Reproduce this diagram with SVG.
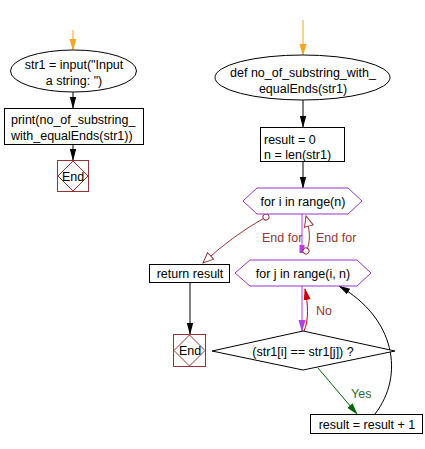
<svg xmlns="http://www.w3.org/2000/svg" width="425" height="449" viewBox="0 0 425 449">
<style>
text{font-family:"Liberation Sans",Arial,sans-serif;font-size:12.5px;fill:#000}
.c{text-anchor:middle}
.box{fill:#fff;stroke:#000;stroke-width:1}
.hex{fill:#fff;stroke:#9933cc;stroke-width:1}
.endb{fill:#fff;stroke:#993333;stroke-width:1}
.lbl{fill:#993333}
.ln{fill:none;stroke-width:1}
</style>
<defs>
<marker id="ab" markerWidth="12" markerHeight="8" refX="11" refY="4" orient="auto" markerUnits="userSpaceOnUse" viewBox="0 0 12 8"><path d="M0,0.8 L12,4 L0,7.2 z" fill="#000"/></marker>
<marker id="ao" markerWidth="12" markerHeight="8" refX="11" refY="4" orient="auto" markerUnits="userSpaceOnUse" viewBox="0 0 12 8"><path d="M0,0.5 L12,4 L0,7.5 z" fill="#f5a623"/></marker>
<marker id="ap" markerWidth="12" markerHeight="8" refX="11" refY="4" orient="auto" markerUnits="userSpaceOnUse" viewBox="0 0 12 8"><path d="M0,0.5 L12,4 L0,7.5 z" fill="#b040e0"/></marker>
<marker id="ar" markerWidth="12" markerHeight="8" refX="11" refY="4" orient="auto" markerUnits="userSpaceOnUse" viewBox="0 0 12 8"><path d="M0,0.5 L12,4 L0,7.5 z" fill="#cc0000"/></marker>
<marker id="ag" markerWidth="12" markerHeight="8" refX="11" refY="4" orient="auto" markerUnits="userSpaceOnUse" viewBox="0 0 12 8"><path d="M0,0.5 L12,4 L0,7.5 z" fill="#006600"/></marker>
<marker id="abr" markerWidth="12" markerHeight="10" refX="11" refY="5" orient="auto" markerUnits="userSpaceOnUse" viewBox="0 0 12 10"><path d="M0.5,0.5 L11,5 L0.5,9.5 z" fill="#fff" stroke="#993333" stroke-width="1"/></marker>
<marker id="cir" markerWidth="8" markerHeight="8" refX="4" refY="4" orient="auto" markerUnits="userSpaceOnUse"><circle cx="4" cy="4" r="3" fill="#fff" stroke="#993333" stroke-width="1"/></marker>
</defs>

<g id="connectors">
<line class="ln" x1="73" y1="30" x2="73" y2="50" stroke="#f5a623" stroke-width="1.5" marker-end="url(#ao)"/>
<line class="ln" x1="73" y1="92" x2="73" y2="108" stroke="#000" marker-end="url(#ab)"/>
<line class="ln" x1="73" y1="145" x2="73" y2="160" stroke="#000" marker-end="url(#ab)"/>
<line class="ln" x1="303" y1="20" x2="303" y2="55" stroke="#f5a623" stroke-width="1.5" marker-end="url(#ao)"/>
<line class="ln" x1="303" y1="100" x2="303" y2="127" stroke="#000" marker-end="url(#ab)"/>
<line class="ln" x1="303" y1="162" x2="303" y2="188" stroke="#000" marker-end="url(#ab)"/>
<line class="ln" x1="302" y1="214" x2="302" y2="247" stroke="#b040e0"/>
<rect x="299.5" y="245" width="5" height="8" fill="#b040e0"/>
<path class="ln" d="M306,251 C311,243 310,230 306,216" stroke="#993333" marker-start="url(#cir)" marker-end="url(#abr)"/>
<path class="ln" d="M266,217 Q232,236 203,263" stroke="#993333" marker-start="url(#cir)" marker-end="url(#abr)"/>
<line class="ln" x1="190" y1="282" x2="190" y2="334" stroke="#000" marker-end="url(#ab)"/>
<line class="ln" x1="302" y1="286" x2="302" y2="331" stroke="#b040e0" marker-end="url(#ap)"/>
<path class="ln" d="M304,331 C309,320 308,304 305,289" stroke="#cc0000" marker-end="url(#ar)"/>
<line class="ln" x1="318" y1="368" x2="357" y2="414" stroke="#006600" marker-end="url(#ag)"/>
<path class="ln" d="M375,414 C405,375 395,318 339,286" stroke="#000" marker-end="url(#ab)"/>
<text class="lbl" x="262" y="242">End for</text>
<text class="lbl" x="316" y="242">End for</text>
<text class="lbl" x="316" y="315">No</text>
<text x="351" y="398" style="fill:#336633">Yes</text>
</g>

<g id="start1">
<ellipse cx="73.5" cy="71" rx="63" ry="21" fill="#fff" stroke="#000"/>
<text class="c" x="74" y="69">str1 = input("Input</text>
<text class="c" x="74" y="85">a string: ")</text>
</g>
<g id="print1">
<rect class="box" x="4.5" y="108.5" width="139" height="36"/>
<text x="11" y="124">print(no_of_substring_</text>
<text x="11" y="140">with_equalEnds(str1))</text>
</g>
<g id="end1">
<rect class="endb" x="57.5" y="160.5" width="31" height="31"/>
<path class="endb" d="M73,161 L88,176 L73,191 L58,176 z"/>
<text class="c" x="73" y="180.5">End</text>
</g>

<g id="def1">
<ellipse cx="302.5" cy="77.5" rx="87.5" ry="22.5" fill="#fff" stroke="#000"/>
<text class="c" x="303" y="77">def no_of_substring_with_</text>
<text class="c" x="303" y="93">equalEnds(str1)</text>
</g>
<g id="init1">
<rect class="box" x="260.5" y="127.5" width="84" height="34"/>
<text x="264" y="144">result = 0</text>
<text x="264" y="159">n = len(str1)</text>
</g>
<g id="fori">
<path class="hex" d="M243,201 L257,188 L348,188 L362,201 L348,214 L257,214 z"/>
<text class="c" x="303" y="205.5">for i in range(n)</text>
</g>
<g id="forj">
<path class="hex" d="M235,273 L250,260 L357,260 L371,273 L357,286 L250,286 z"/>
<text class="c" x="303" y="277.5">for j in range(i, n)</text>
</g>
<g id="ret">
<rect class="box" x="149.5" y="264.5" width="80" height="18"/>
<text class="c" x="190" y="278">return result</text>
</g>
<g id="end2">
<rect class="endb" x="173.5" y="334.5" width="32" height="32"/>
<path class="endb" d="M189.5,335 L205,350.5 L189.5,366 L174,350.5 z"/>
<text class="c" x="190" y="355">End</text>
</g>
<g id="cond">
<path d="M212,351 L303,331 L395,351 L303,370 z" fill="#fff" stroke="#000"/>
<text class="c" x="303" y="355.5">(str1[i] == str1[j]) ?</text>
</g>
<g id="inc">
<rect class="box" x="310.5" y="414.5" width="112" height="19"/>
<text class="c" x="367" y="429">result = result + 1</text>
</g>
</svg>
